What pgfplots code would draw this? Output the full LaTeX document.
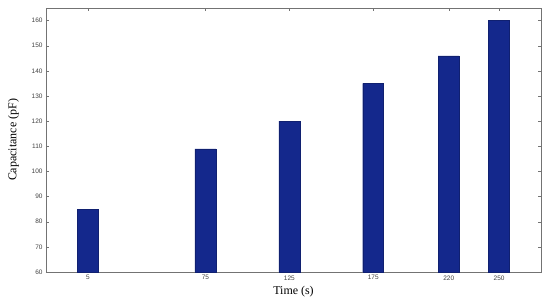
\documentclass[border=0pt]{standalone}
\usepackage{fontspec}
\setmainfont{Liberation Serif}
\newfontfamily\tickfont{Liberation Sans}
\usepackage{pgfplots}
\pgfplotsset{compat=1.18}
\definecolor{barblue}{RGB}{20,40,140}

\begin{document}
\begin{tikzpicture}
\begin{axis}[
  scale only axis,
  width=495bp, height=264bp,
  xmin=-20, xmax=275,
  ymin=60, ymax=165,
  xtick={5,75,125,175,220,250},
  ytick={60,70,...,160},
  tick align=inside,
  major tick length=3bp,
  axis line style={black!55},
  tick style={black!55},
  tick label style={font=\tickfont\fontsize{6.5}{7}\selectfont, text=black!75},
  /pgf/number format/assume math mode=true,
  xlabel={Time (s)},
  ylabel={Capacitance (pF)},
  label style={font=\fontsize{12}{14}\selectfont},
  xlabel style={yshift=1bp},
  ylabel style={yshift=6bp},
]
\addplot[ybar, bar width=12.5, fill=barblue, draw=barblue!80!black, bar shift=0pt]
  coordinates {(5,85)(75,109)(125,120)(175,135)(220,146)(250,160)};
\end{axis}
\path (current axis.south west) ++(-46bp,-28bp) coordinate (bl);
\path (current axis.north east) ++(9bp,8bp) coordinate (tr);
\path (bl) rectangle (tr);
\end{tikzpicture}
\end{document}
